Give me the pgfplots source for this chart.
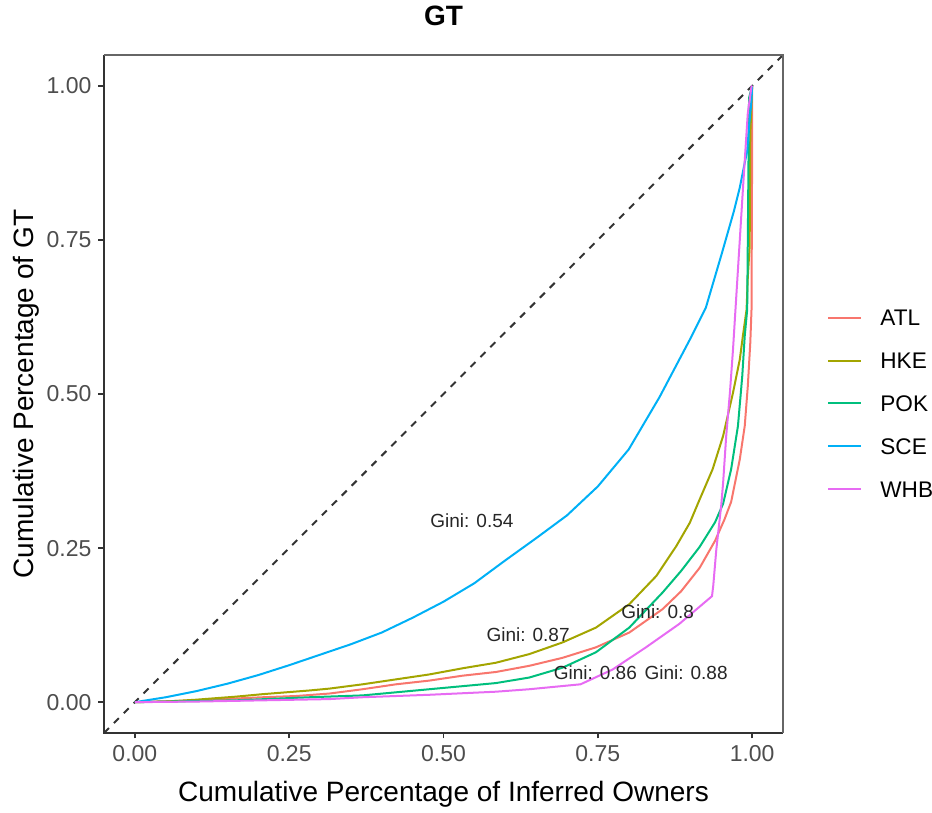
\documentclass[border=0pt]{standalone}
\usepackage{fontspec}
\setmainfont{Liberation Sans}
\usepackage{pgfplots}
\pgfplotsset{compat=1.18}
\definecolor{cATL}{HTML}{F8766D}
\definecolor{cHKE}{HTML}{A3A500}
\definecolor{cPOK}{HTML}{00BF7D}
\definecolor{cSCE}{HTML}{00B0F6}
\definecolor{cWHB}{HTML}{E76BF3}
\definecolor{axtext}{HTML}{4D4D4D}
\definecolor{tickc}{HTML}{333333}
\begin{document}
\begin{tikzpicture}
\path[use as bounding box] (-52pt,-40pt) rectangle (414pt,366.5pt);
\begin{axis}[
  at={(0,0)}, anchor=south west,
  scale only axis, width=339.5pt, height=339pt,
  xmin=-0.05, xmax=1.05, ymin=-0.05, ymax=1.05,
  axis line style={draw=none},
  clip mode=individual,
  xtick={0,0.25,0.5,0.75,1}, xticklabels={0.00,0.25,0.50,0.75,1.00},
  ytick={0,0.25,0.5,0.75,1}, yticklabels={0.00,0.25,0.50,0.75,1.00},
  xtick pos=bottom, ytick pos=left,
  tick align=outside, major tick length=2.75pt,
  tick style={tickc, line width=0.8pt},
  ticklabel style={font=\fontsize{11.5}{13}\selectfont, text=axtext},
  title={GT},
  title style={font=\bfseries\fontsize{14}{16}\selectfont, at={(axis description cs:0.5,1)}, anchor=south, inner sep=0pt, yshift=8.5pt},
  xlabel={Cumulative Percentage of Inferred Owners},
  xlabel style={font=\fontsize{14}{16}\selectfont, at={(axis description cs:0.5,0)}, anchor=north, inner sep=0pt, yshift=-24pt},
  ylabel={Cumulative Percentage of GT},
  ylabel style={font=\fontsize{14}{16}\selectfont, at={(axis description cs:-0.0943,0.5)}, anchor=south, inner sep=0pt},
  legend style={draw=none, fill=none, at={(axis description cs:1,0.486)}, anchor=west, xshift=22pt,
    font=\fontsize{11.3}{13}\selectfont, inner sep=0pt, row sep=13.3pt, column sep=9pt,
    nodes={inner sep=0pt, text height=8.1pt, text depth=0pt}},
  legend cell align=left,
  legend image code/.code={\draw[#1, line width=1pt] (0pt,0pt) -- (16.5pt,0pt);},
  after end axis/.code={
    \draw[tickc, line width=1pt] (rel axis cs:0,1) -- (rel axis cs:0,0) -- (rel axis cs:1,0);
    \draw[gray!80!black, line width=0.7pt] (rel axis cs:0,1) -- (rel axis cs:1,1) -- (rel axis cs:1,0);
  },
]
\addplot[forget plot, color=tickc, line width=1pt, dash pattern=on 3.5pt off 3.5pt] coordinates {(-0.05,-0.05) (1.05,1.05)};

% ATL
\addplot[cATL, line width=1pt] coordinates {
(0,0) (0.1,0.003) (0.207,0.008) (0.261,0.010) (0.315,0.014) (0.369,0.021) (0.423,0.029)
(0.477,0.035) (0.531,0.043) (0.585,0.049) (0.639,0.059) (0.693,0.072) (0.747,0.089)
(0.801,0.113) (0.855,0.151) (0.885,0.180) (0.915,0.218) (0.940,0.262) (0.955,0.296)
(0.966,0.325) (0.980,0.394) (0.988,0.448) (0.993,0.513) (0.997,0.583) (0.999,0.637)
(1.0,0.90) (1,1)};
\addlegendentry{ATL}
% HKE
\addplot[cHKE, line width=1pt] coordinates {
(0,0) (0.05,0.001) (0.099,0.004) (0.164,0.009) (0.207,0.013) (0.245,0.016) (0.283,0.019)
(0.315,0.022) (0.369,0.029) (0.423,0.037) (0.477,0.045) (0.531,0.055) (0.585,0.064)
(0.639,0.078) (0.693,0.097) (0.747,0.121) (0.801,0.159) (0.845,0.205) (0.877,0.253)
(0.899,0.291) (0.915,0.329) (0.936,0.378) (0.953,0.432) (0.969,0.502) (0.980,0.556)
(0.985,0.594) (0.991,0.637) (0.993,0.690) (0.996,0.740) (0.997,0.920) (1,1)};
\addlegendentry{HKE}
% POK
\addplot[cPOK, line width=1pt] coordinates {
(0,0) (0.164,0.003) (0.283,0.008) (0.369,0.011) (0.423,0.016) (0.477,0.021) (0.531,0.026)
(0.585,0.031) (0.639,0.040) (0.693,0.056) (0.747,0.081) (0.801,0.121) (0.855,0.178)
(0.885,0.213) (0.915,0.252) (0.940,0.292) (0.953,0.322) (0.966,0.378) (0.977,0.448)
(0.984,0.529) (0.988,0.594) (0.992,0.637) (0.995,0.980) (1,1)};
\addlegendentry{POK}
% SCE
\addplot[cSCE, line width=1pt] coordinates {
(0,0) (0.05,0.008) (0.10,0.018) (0.15,0.030) (0.20,0.044) (0.25,0.060) (0.30,0.077)
(0.35,0.094) (0.40,0.113) (0.45,0.137) (0.50,0.163) (0.55,0.193) (0.60,0.230)
(0.65,0.266) (0.70,0.303) (0.75,0.350) (0.80,0.410) (0.85,0.495) (0.90,0.590)
(0.925,0.640) (0.95,0.725) (0.97,0.795) (0.98,0.835) (0.988,0.875) (0.992,0.894)
(0.995,0.934) (0.999,0.977) (1,1)};
\addlegendentry{SCE}
% WHB
\addplot[cWHB, line width=1pt] coordinates {
(0,0) (0.1,0.001) (0.315,0.005) (0.369,0.008) (0.477,0.012) (0.585,0.017) (0.639,0.021)
(0.722,0.029) (0.774,0.053) (0.828,0.089) (0.882,0.127) (0.935,0.172) (0.937,0.189)
(0.942,0.248) (0.950,0.320) (0.953,0.356) (0.958,0.432) (0.964,0.502) (0.969,0.572)
(0.973,0.637) (0.980,0.750) (0.985,0.831) (0.989,0.894) (0.993,0.956) (0.999,0.999) (1,1)};
\addlegendentry{WHB}

\node[font=\fontsize{9.5}{11}\selectfont, text=black!85] at (axis cs:0.546,0.295) {Gini: 0.54};
\node[font=\fontsize{9.5}{11}\selectfont, text=black!85] at (axis cs:0.637,0.109) {Gini: 0.87};
\node[font=\fontsize{9.5}{11}\selectfont, text=black!85] at (axis cs:0.847,0.146) {Gini: 0.8};
\node[font=\fontsize{9.5}{11}\selectfont, text=black!85] at (axis cs:0.746,0.048) {Gini: 0.86};
\node[font=\fontsize{9.5}{11}\selectfont, text=black!85] at (axis cs:0.893,0.048) {Gini: 0.88};
\end{axis}
\end{tikzpicture}
\end{document}
